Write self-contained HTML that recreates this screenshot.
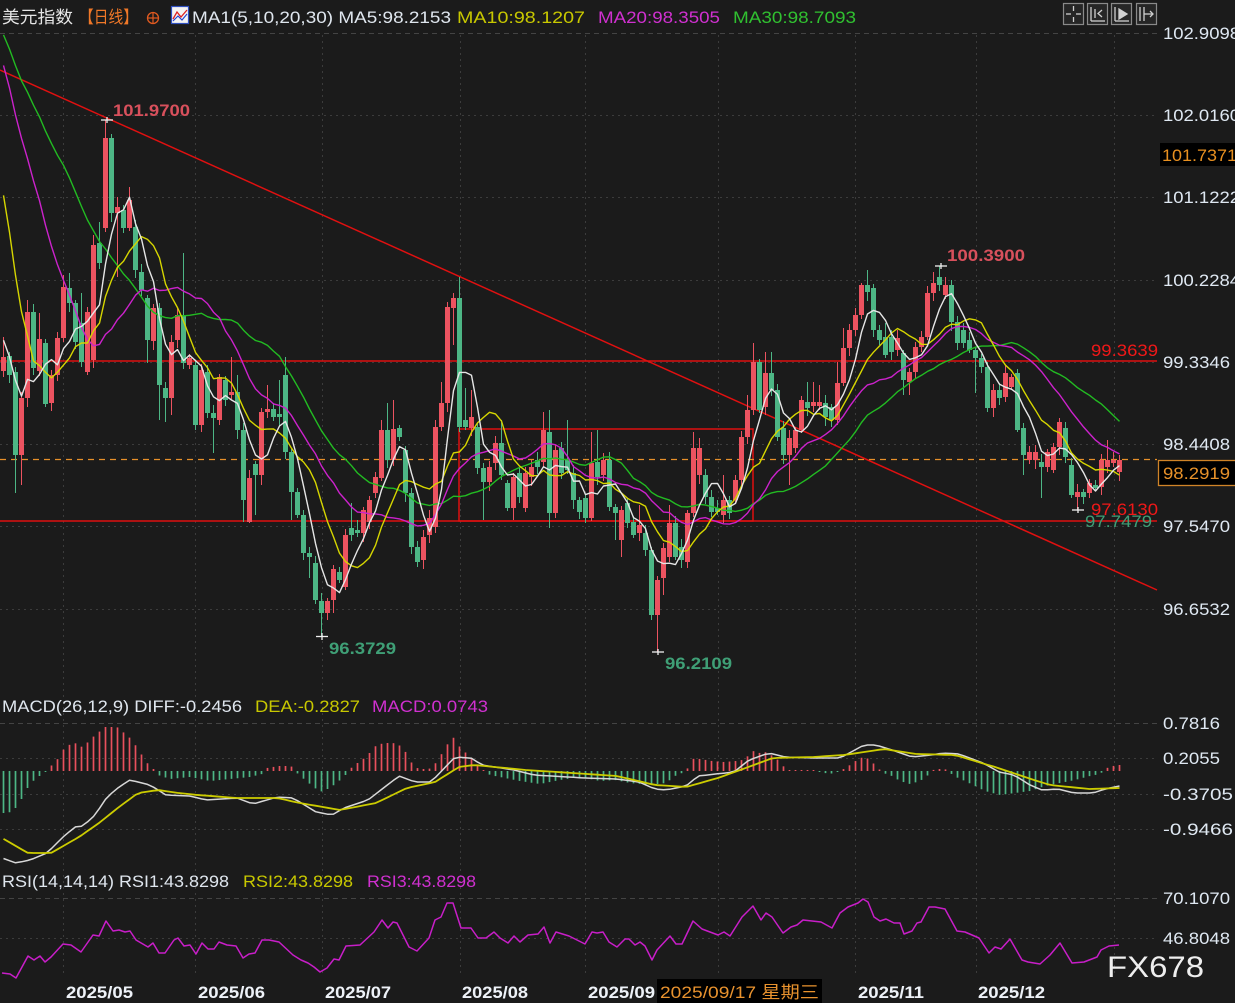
<!DOCTYPE html>
<html><head><meta charset="utf-8">
<style>
html,body{margin:0;padding:0;background:#1b1b1b;overflow:hidden;}
svg{display:block;}
text{font-family:"Liberation Sans","Noto Sans CJK SC",sans-serif;}
</style></head>
<body>
<svg id="c" width="1235" height="1003" viewBox="0 0 1235 1003" xmlns="http://www.w3.org/2000/svg">
<rect width="1235" height="1003" fill="#1b1b1b"/>
<g id="grid" stroke="#3c3c3c" stroke-width="1" fill="none">
  <line x1="0" y1="33.5" x2="1157" y2="33.5" stroke-dasharray="5,4" stroke="#444"/>
  <line x1="0" y1="115.5" x2="1157" y2="115.5" stroke-dasharray="2,4"/>
  <line x1="0" y1="197.5" x2="1157" y2="197.5" stroke-dasharray="2,4"/>
  <line x1="0" y1="280.5" x2="1157" y2="280.5" stroke-dasharray="2,4"/>
  <line x1="0" y1="362.5" x2="1157" y2="362.5" stroke-dasharray="2,4"/>
  <line x1="0" y1="444.5" x2="1157" y2="444.5" stroke-dasharray="2,4"/>
  <line x1="0" y1="526.5" x2="1157" y2="526.5" stroke-dasharray="2,4"/>
  <line x1="0" y1="609.5" x2="1157" y2="609.5" stroke-dasharray="2,4"/>
  <line x1="0" y1="723.5" x2="1157" y2="723.5" stroke-dasharray="5,4" stroke="#444"/>
  <line x1="0" y1="758.5" x2="1157" y2="758.5" stroke-dasharray="2,4"/>
  <line x1="0" y1="794.5" x2="1157" y2="794.5" stroke-dasharray="2,4"/>
  <line x1="0" y1="829.5" x2="1157" y2="829.5" stroke-dasharray="2,4"/>
  <line x1="0" y1="898.5" x2="1157" y2="898.5" stroke-dasharray="5,4" stroke="#444"/>
  <line x1="0" y1="938.5" x2="1157" y2="938.5" stroke-dasharray="2,4"/>
  <g stroke-dasharray="2,4">
    <line x1="63.5" y1="35" x2="63.5" y2="977"/>
    <line x1="195.5" y1="35" x2="195.5" y2="977"/>
    <line x1="322.5" y1="35" x2="322.5" y2="977"/>
    <line x1="460.5" y1="35" x2="460.5" y2="977"/>
    <line x1="585.5" y1="35" x2="585.5" y2="977"/>
    <line x1="718.5" y1="35" x2="718.5" y2="977"/>
    <line x1="855.5" y1="35" x2="855.5" y2="977"/>
    <line x1="976.5" y1="35" x2="976.5" y2="977"/>
    <line x1="1114.5" y1="35" x2="1114.5" y2="977"/>
  </g>
</g>

<!-- drawn lines -->
<g stroke="#e01010" stroke-width="1.5" fill="none">
  <line x1="0" y1="70" x2="1157" y2="590"/>
  <line x1="0" y1="361" x2="1157" y2="361"/>
  <line x1="0" y1="521" x2="1157" y2="521"/>
  <rect x="459" y="429" width="294" height="92"/>
</g>
<line x1="0" y1="459.5" x2="1157" y2="459.5" stroke="#e8902a" stroke-width="1.3" stroke-dasharray="6,5"/>

<g id="candles"></g>
<g id="mas" fill="none" stroke-width="1.4" stroke-linejoin="round"></g>
<g id="macd"></g>
<g id="rsi" fill="none"></g>

<!-- markers -->
<g stroke="#f0f0f0" stroke-width="1.3">
  <line x1="101" y1="120" x2="113" y2="120"/><line x1="107" y1="117" x2="107" y2="123"/>
  <line x1="316" y1="636.5" x2="328" y2="636.5"/><line x1="322" y1="633" x2="322" y2="640"/>
  <line x1="652" y1="652" x2="664" y2="652"/><line x1="658" y1="649" x2="658" y2="655"/>
  <line x1="935" y1="266" x2="947" y2="266"/><line x1="941" y1="263" x2="941" y2="269"/>
  <line x1="1072" y1="510" x2="1084" y2="510"/><line x1="1078" y1="507" x2="1078" y2="513"/>
</g>

<!-- chart labels -->
<g font-size="17">
  <text x="113" y="116" fill="#d8505c" font-weight="bold" textLength="77" lengthAdjust="spacingAndGlyphs">101.9700</text>
  <text x="329" y="654" fill="#3f9f76" font-weight="bold" textLength="67" lengthAdjust="spacingAndGlyphs">96.3729</text>
  <text x="665" y="669" fill="#3f9f76" font-weight="bold" textLength="67" lengthAdjust="spacingAndGlyphs">96.2109</text>
  <text x="947" y="261" fill="#d8505c" font-weight="bold" textLength="78" lengthAdjust="spacingAndGlyphs">100.3900</text>
  <text x="1091" y="356" fill="#f01818" textLength="67" lengthAdjust="spacingAndGlyphs">99.3639</text>
  <text x="1085" y="527" fill="#3f9f76" textLength="67" lengthAdjust="spacingAndGlyphs">97.7479</text>
  <text x="1091" y="515" fill="#f01818" textLength="67" lengthAdjust="spacingAndGlyphs">97.6130</text>
</g>

<!-- header -->
<g font-size="17">
  <text x="2" y="23" fill="#e6e6e6" textLength="71" lengthAdjust="spacingAndGlyphs">美元指数</text>
  <text x="79" y="23" fill="#f07828" textLength="59" lengthAdjust="spacingAndGlyphs">【日线】</text>
  <circle cx="153" cy="18" r="5.5" fill="none" stroke="#e05a20" stroke-width="1.3"/>
  <line x1="147" y1="18" x2="159" y2="18" stroke="#e05a20" stroke-width="1.2"/>
  <line x1="153" y1="12" x2="153" y2="24" stroke="#e05a20" stroke-width="1.2"/>
  <rect x="171.5" y="6.5" width="17" height="17" fill="#f4f4f4" stroke="#3050c0" stroke-width="1.2"/>
  <polyline points="173,19 177,12 181,17 187,10" fill="none" stroke="#e02020" stroke-width="1.3"/>
  <polyline points="173,21 178,16 182,20 187,14" fill="none" stroke="#2040d0" stroke-width="1.1"/>
  <text x="192" y="23" fill="#dfe6ee" textLength="259" lengthAdjust="spacingAndGlyphs">MA1(5,10,20,30) MA5:98.2153</text>
  <text x="457" y="23" fill="#c8c800" textLength="128" lengthAdjust="spacingAndGlyphs">MA10:98.1207</text>
  <text x="598" y="23" fill="#d030d0" textLength="122" lengthAdjust="spacingAndGlyphs">MA20:98.3505</text>
  <text x="733" y="23" fill="#30c030" textLength="123" lengthAdjust="spacingAndGlyphs">MA30:98.7093</text>
</g>

<!-- toolbar icons -->
<g fill="#262626" stroke="#8a8a8a" stroke-width="1.2">
  <rect x="1063.5" y="3.5" width="20" height="21"/>
  <rect x="1087.5" y="3.5" width="20" height="21"/>
  <rect x="1111.5" y="3.5" width="20" height="21"/>
  <rect x="1136.5" y="3.5" width="20" height="21"/>
</g>
<g stroke="#d0d0d0" stroke-width="1.3" fill="none">
  <line x1="1073.5" y1="6" x2="1073.5" y2="11"/><line x1="1073.5" y1="17" x2="1073.5" y2="22"/>
  <line x1="1066" y1="14" x2="1071" y2="14"/><line x1="1076" y1="14" x2="1081" y2="14"/>
  <line x1="1091" y1="7" x2="1091" y2="21"/><line x1="1091" y1="21" x2="1105" y2="21"/>
  <line x1="1095" y1="9" x2="1095" y2="18"/><polyline points="1102,10 1098,13.5 1102,17"/>
  <line x1="1115" y1="7" x2="1115" y2="21"/><line x1="1115" y1="21" x2="1129" y2="21"/>
  <polygon points="1119,9 1127,14 1119,19" fill="#d0d0d0"/>
  <line x1="1140" y1="7" x2="1140" y2="21"/><line x1="1144" y1="7" x2="1144" y2="21"/>
  <line x1="1144" y1="14" x2="1153" y2="14"/><polyline points="1150,11 1153,14 1150,17"/>
</g>

<!-- right axis -->
<g font-size="17" fill="#dfe8f2">
  <text x="1163" y="39" textLength="77" lengthAdjust="spacingAndGlyphs">102.9098</text>
  <text x="1163" y="121" textLength="77" lengthAdjust="spacingAndGlyphs">102.0160</text>
  <text x="1163" y="203" textLength="77" lengthAdjust="spacingAndGlyphs">101.1222</text>
  <text x="1163" y="286" textLength="77" lengthAdjust="spacingAndGlyphs">100.2284</text>
  <text x="1163" y="368" textLength="67" lengthAdjust="spacingAndGlyphs">99.3346</text>
  <text x="1163" y="450" textLength="67" lengthAdjust="spacingAndGlyphs">98.4408</text>
  <text x="1163" y="532" textLength="67" lengthAdjust="spacingAndGlyphs">97.5470</text>
  <text x="1163" y="615" textLength="67" lengthAdjust="spacingAndGlyphs">96.6532</text>
  <text x="1163" y="729" textLength="57" lengthAdjust="spacingAndGlyphs">0.7816</text>
  <text x="1163" y="764" textLength="57" lengthAdjust="spacingAndGlyphs">0.2055</text>
  <text x="1163" y="800" textLength="70" lengthAdjust="spacingAndGlyphs">-0.3705</text>
  <text x="1163" y="835" textLength="70" lengthAdjust="spacingAndGlyphs">-0.9466</text>
  <text x="1163" y="904" textLength="67" lengthAdjust="spacingAndGlyphs">70.1070</text>
  <text x="1163" y="944" textLength="67" lengthAdjust="spacingAndGlyphs">46.8048</text>
</g>
<rect x="1160" y="143" width="75" height="23" fill="#000"/>
<text x="1162" y="161" font-size="17" fill="#e89020" textLength="75" lengthAdjust="spacingAndGlyphs">101.7371</text>
<rect x="1158.5" y="460.5" width="78" height="25" fill="#000" stroke="#d08428" stroke-width="1.3"/>
<text x="1163" y="479" font-size="17" fill="#e8922a" textLength="67" lengthAdjust="spacingAndGlyphs">98.2919</text>

<!-- sub headers -->
<g font-size="17">
  <text x="2" y="712" fill="#dfe6ee" textLength="240" lengthAdjust="spacingAndGlyphs">MACD(26,12,9) DIFF:-0.2456</text>
  <text x="255" y="712" fill="#c8c800" textLength="105" lengthAdjust="spacingAndGlyphs">DEA:-0.2827</text>
  <text x="372" y="712" fill="#d030d0" textLength="116" lengthAdjust="spacingAndGlyphs">MACD:0.0743</text>
  <text x="2" y="887" fill="#dfe6ee" textLength="227" lengthAdjust="spacingAndGlyphs">RSI(14,14,14) RSI1:43.8298</text>
  <text x="243" y="887" fill="#c8c800" textLength="110" lengthAdjust="spacingAndGlyphs">RSI2:43.8298</text>
  <text x="367" y="887" fill="#d030d0" textLength="109" lengthAdjust="spacingAndGlyphs">RSI3:43.8298</text>
</g>

<!-- x axis -->
<g font-size="17" font-weight="bold" fill="#eef2f8">
  <text x="66" y="998" textLength="67" lengthAdjust="spacingAndGlyphs">2025/05</text>
  <text x="198" y="998" textLength="67" lengthAdjust="spacingAndGlyphs">2025/06</text>
  <text x="325" y="998" textLength="66" lengthAdjust="spacingAndGlyphs">2025/07</text>
  <text x="462" y="998" textLength="66" lengthAdjust="spacingAndGlyphs">2025/08</text>
  <text x="588" y="998" textLength="67" lengthAdjust="spacingAndGlyphs">2025/09</text>
  <text x="858" y="998" textLength="66" lengthAdjust="spacingAndGlyphs">2025/11</text>
  <text x="978" y="998" textLength="67" lengthAdjust="spacingAndGlyphs">2025/12</text>
</g>
<rect x="657" y="979" width="165" height="24" fill="#000"/>
<text x="660" y="998" font-size="17" fill="#e8922e" textLength="159" lengthAdjust="spacingAndGlyphs">2025/09/17 星期三</text>

<text x="1107" y="977" font-size="30" fill="#eeeeee" textLength="97" lengthAdjust="spacingAndGlyphs">FX678</text>
</svg>
<script>
(function(){
var NS='http://www.w3.org/2000/svg';
function el(p,t,a){var e=document.createElementNS(NS,t);for(var k in a)e.setAttribute(k,a[k]);p.appendChild(e);return e;}
var D=[
['r',357,371,337,377],['g',356,375,0,0],['g',372,455,0,493],['r',398,455,0,485],['r',312,398,300,0],
['g',312,368,0,0],['r',339,371,313,0],['g',343,404,0,0],['r',375,403,0,0],['r',338,375,0,0],
['r',287,338,275,0],['g',288,303,273,0],['g',303,342,0,0],['g',323,362,293,0],['r',312,372,0,0],
['r',245,360,235,0],['g',243,263,222,0],['r',138,228,120,0],['g',138,213,134,0],['r',207,213,197,277],
['g',210,228,0,0],['r',200,228,187,0],['g',227,270,0,0],['g',272,290,0,0],['g',298,340,0,363],
['r',308,341,0,0],['g',308,385,0,420],['g',388,398,0,422],['r',342,398,0,415],['r',315,340,0,0],
['g',315,363,253,0],['r',358,365,0,0],['g',365,425,0,430],['r',370,425,0,432],['g',372,413,0,0],
['g',413,418,0,453],['r',377,420,0,425],['g',380,400,0,0],['r',392,395,357,0],['g',392,430,375,0],
['g',430,500,0,522],['r',478,522,0,523],['g',464,475,0,515],['r',412,475,0,485],['r',409,412,385,0],
['g',409,417,0,0],['g',414,417,380,0],['g',375,452,357,0],['g',452,492,0,520],['g',492,515,0,0],
['g',515,553,0,560],['g',553,557,0,578],['g',563,600,0,0],['g',601,613,0,636],['r',601,613,0,0],
['r',569,600,0,613],['g',572,580,0,0],['r',535,587,0,590],['g',528,535,503,0],['g',530,533,520,0],
['r',510,533,0,0],['r',500,522,0,0],['r',477,493,0,0],['r',430,478,420,0],['g',430,460,403,0],
['r',429,460,400,0],['g',428,437,0,0],['g',450,493,0,0],['g',493,547,0,0],['g',547,562,0,0],
['r',537,560,0,569],['r',518,535,0,0],['r',427,527,420,0],['r',403,427,382,0],['r',307,403,302,0],
['r',298,308,293,345],['g',298,427,277,0],['g',420,427,388,0],['r',417,428,390,0],['g',427,468,0,0],
['g',468,482,0,520],['r',467,482,0,0],['r',443,463,0,0],['g',443,475,420,0],['g',483,508,0,0],
['r',477,508,0,520],['g',473,497,0,0],['r',473,508,0,0],['r',467,477,0,0],['g',460,467,0,0],
['r',430,462,412,0],['g',432,513,410,528],['r',450,513,0,518],['g',448,473,0,0],['g',460,470,420,0],
['g',473,500,0,0],['g',500,512,0,0],['g',498,518,0,0],['r',463,518,432,0],['g',462,477,430,0],
['r',460,475,0,0],['g',460,507,0,0],['g',507,513,0,540],['r',510,540,0,557],['g',503,523,0,0],
['g',522,535,0,0],['r',525,533,505,0],['g',533,550,0,0],['g',550,615,0,620],['r',580,615,0,652],
['r',548,578,0,595],['r',523,557,505,0],['g',523,557,0,0],['g',547,560,0,0],['r',513,562,0,0],
['r',448,513,432,0],['r',448,475,438,0],['g',475,497,0,0],['g',497,512,0,0],['g',508,512,0,0],
['r',500,515,475,0],['g',500,513,0,0],['r',480,500,0,0],['r',437,480,0,0],['r',410,437,395,0],
['r',362,410,343,0],['g',362,410,0,0],['r',373,407,352,0],['g',373,390,352,0],['g',390,437,0,0],
['g',428,455,0,0],['r',438,455,0,485],['r',430,448,0,0],['r',400,430,0,0],['g',402,408,382,0],
['r',402,406,382,0],['r',402,406,385,0],['g',403,417,0,0],['g',407,420,0,0],['r',383,420,362,0],
['r',348,383,328,0],['r',330,348,0,0],['r',315,330,0,0],['r',285,315,283,0],['g',285,292,270,0],
['g',288,330,0,0],['g',330,340,0,0],['g',337,355,323,0],['g',337,352,0,0],['r',338,350,0,0],
['g',353,380,0,395],['r',372,382,0,395],['r',347,372,0,0],['r',337,347,0,0],['r',293,337,0,0],
['r',283,293,272,0],['g',277,285,266,0],['r',285,295,277,0],['g',285,322,0,0],['g',322,343,0,0],
['g',330,343,0,0],['g',340,350,0,0],['g',350,358,0,393],['g',358,367,0,0],['g',367,408,0,412],
['r',390,408,0,0],['g',390,398,0,0],['r',373,397,0,0],['r',377,387,0,0],['g',373,430,0,432],
['g',428,455,0,475],['r',452,460,0,0],['r',452,460,0,0],['g',462,467,0,498],['r',452,467,0,0],
['r',447,470,0,0],['r',422,447,418,0],['g',428,457,0,0],['g',465,495,0,498],['r',492,497,0,510],
['g',492,497,0,0],['r',483,493,0,498],['g',485,488,0,0],['r',460,487,0,0],['r',460,467,440,0],
['r',460,463,0,0],['r',460,472,455,0]
];
var RED='#ec5360',GRN='#4db685';
var cg=document.getElementById('candles');
var closes=[];
function X(i){return 3+6*i;}
for(var i=0;i<D.length;i++){
  var d=D[i],x=X(i),top=d[1],bot=d[2];
  var hi=d[3]||top-(3+(i*7)%6), lo=d[4]||bot+(3+(i*5)%7);
  if(hi>top)hi=top; if(lo<bot)lo=bot;
  var col=d[0]=='r'?RED:GRN;
  el(cg,'line',{x1:x+0.5,y1:hi,x2:x+0.5,y2:lo,stroke:col,'stroke-width':1});
  el(cg,'rect',{x:x-2,y:top,width:5,height:Math.max(1.2,bot-top),fill:col});
  closes.push(d[0]=='r'?top:bot);
}
function P2Y(p){return 33+(102.9098-p)*92.06;}
var warm=[103.8,103.7,103.9,103.6,103.5,103.4,103.5,103.3,103.4,103.4,104.1,104.2,104.0,104.3,104.1,103.9,104.2,103.8,103.6,103.5,103.2,103.0,102.9,102.5,102.0,100.1,99.6,99.8,98.97].map(P2Y);
var ys=warm.concat(closes),W=warm.length;
var mg=document.getElementById('mas');
function ma(n,col){var pts=[];for(var i=0;i<closes.length;i++){var s=0;for(var k=0;k<n;k++)s+=ys[W+i-k];pts.push(X(i)+0.5+','+(s/n).toFixed(1));}
  el(mg,'polyline',{points:pts.join(' '),stroke:col});}
ma(30,'#22bb22');ma(20,'#cc22cc');ma(10,'#d6d600');ma(5,'#e6e6e6');

function interp(P,x){if(x<=P[0][0])return P[0][1];for(var k=1;k<P.length;k++){if(x<=P[k][0]){var a=P[k-1],b=P[k];return a[1]+(b[1]-a[1])*(x-a[0])/(b[0]-a[0]);}}return P[P.length-1][1];}
var H=[[2,-42],[8,-42],[14,-39],[20,-31],[26,-19],[32,-11],[38,-6],[44,-2],[49,3],[57,11],[63,21],[69,26],[75,28],[81,24],[87,28],[93,34],[99,39],[105,44],[111,44],[117,44],[123,39],[129,34],[134,28],[140,19],[146,9],[152,4],[158,-4],[170,-8],[190,-6],[210,-10],[230,-8],[250,-6],[262,-3],[267,3],[279,5],[291,5],[297,-2],[305,-9],[320,-21],[330,-17],[344,-6],[350,2],[356,7],[362,11],[368,16],[374,24],[380,27],[387,28],[393,28],[399,26],[405,20],[411,9],[417,3],[423,2],[429,2],[435,7],[441,16],[447,26],[453,34],[459,25],[465,19],[471,13],[476,8],[482,2],[490,-4],[520,-10],[540,-13],[560,-9],[580,-6],[600,-10],[615,-9],[630,-12],[650,-14],[666,-12],[675,-5],[682,-2],[688,3],[694,13],[700,12],[712,10],[724,9],[736,10],[742,11],[748,15],[753,20],[759,18],[765,19],[771,16],[777,12],[783,5],[789,1],[800,1],[815,0],[830,-3],[842,1],[850,6],[857,11],[863,14],[869,12],[875,6],[880,1],[886,-3],[892,-5],[900,-10],[910,-13],[920,-10],[927,-5],[933,1],[939,2],[945,2],[950,-2],[958,-7],[965,-10],[975,-15],[985,-20],[1000,-24],[1015,-22],[1030,-20],[1045,-15],[1060,-12],[1075,-9],[1090,-5],[1100,-3],[1107,3],[1113,5],[1119,6]];
var DIFF=[[2,858],[16,863],[30,860],[47,853],[63,837],[75,827],[83,826],[95,815],[107,797],[119,787],[130,780],[150,785],[166,795],[190,796],[206,800],[237,798],[253,804],[277,797],[293,798],[316,812],[332,815],[344,808],[368,800],[399,776],[415,782],[431,782],[455,757],[471,758],[482,765],[514,770],[534,775],[585,778],[617,779],[639,782],[655,789],[666,790],[686,786],[698,776],[734,772],[749,760],[769,753],[785,757],[813,758],[840,758],[864,745],[876,745],[892,750],[912,757],[931,755],[943,753],[959,754],[983,763],[999,772],[1014,775],[1030,785],[1042,790],[1058,789],[1074,793],[1093,793],[1105,789],[1119,786]];
var DEA=[[2,838],[28,853],[51,853],[79,837],[99,823],[119,807],[138,793],[158,790],[178,793],[198,795],[237,798],[277,798],[300,803],[340,810],[376,803],[407,788],[435,782],[459,767],[474,765],[526,770],[617,776],[655,785],[686,787],[718,778],[773,758],[813,757],[844,755],[884,749],[916,754],[955,755],[995,767],[1034,780],[1050,785],[1089,789],[1119,788]];
var mc=document.getElementById('macd');
for(var i=0;i<D.length;i++){var x=X(i)+0.5,v=interp(H,x);if(Math.abs(v)<1)v=v<0?-1:1;
  el(mc,'line',{x1:x,y1:771,x2:x,y2:771-v,stroke:v>=0?'#e8505c':'#4db685','stroke-width':1.7});}
function line(P,col,w){var pts=[];for(var i=0;i<D.length;i++){var x=X(i)+0.5;pts.push(x+','+interp(P,x).toFixed(1));}
  el(mc,'polyline',{points:pts.join(' '),stroke:col,'stroke-width':w,fill:'none','stroke-linejoin':'round'});}
line(DIFF,'#d8d8d8',1.5);line(DEA,'#cccc00',1.8);
var R=[[2,973],[10,974],[16,978],[28,956],[34,960],[40,956],[45,962],[51,957],[63,944],[71,945],[81,952],[93,935],[99,936],[106,921],[113,931],[119,930],[125,932],[130,931],[136,940],[148,947],[153,943],[159,953],[165,953],[174,940],[178,938],[184,946],[190,945],[196,954],[202,943],[208,949],[214,949],[219,942],[227,945],[236,946],[243,958],[249,954],[255,953],[262,940],[269,940],[279,942],[293,955],[301,960],[308,963],[314,967],[320,972],[327,968],[334,959],[339,960],[346,946],[360,945],[374,932],[382,920],[388,928],[393,922],[397,923],[403,935],[409,947],[417,951],[429,938],[435,920],[441,917],[447,903],[453,903],[461,928],[471,928],[478,938],[486,938],[494,932],[500,938],[508,943],[514,936],[520,942],[528,935],[538,934],[544,927],[550,943],[556,932],[569,936],[585,944],[592,932],[597,933],[603,932],[609,942],[617,947],[625,939],[629,939],[635,945],[640,942],[645,946],[652,960],[657,950],[670,936],[676,944],[682,944],[693,921],[702,929],[710,932],[718,935],[724,932],[730,936],[742,917],[753,906],[761,920],[766,913],[772,917],[783,933],[791,927],[797,925],[803,920],[821,922],[832,928],[840,913],[848,907],[858,903],[863,899],[868,902],[874,917],[880,921],[886,919],[894,923],[900,923],[904,934],[912,931],[917,923],[921,922],[929,907],[935,907],[945,909],[957,931],[965,932],[979,938],[989,953],[995,947],[1001,949],[1010,939],[1022,960],[1028,962],[1040,964],[1050,955],[1060,943],[1072,963],[1084,962],[1097,957],[1101,950],[1109,946],[1119,945]];
var rg=document.getElementById('rsi');
el(rg,'polyline',{points:R.map(function(p){return p[0]+','+p[1];}).join(' '),stroke:'#c81ec8','stroke-width':1.5,'stroke-linejoin':'round'});
})();
</script>
</body></html>
